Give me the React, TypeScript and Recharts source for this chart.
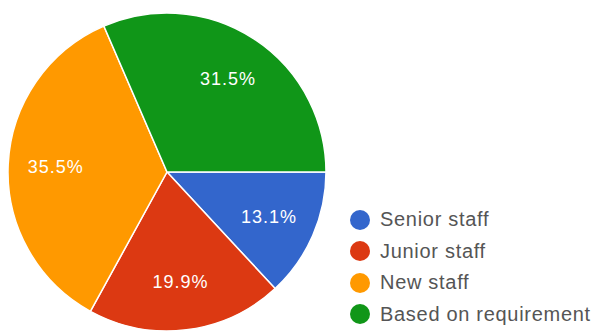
import { Cell, Legend, Pie, PieChart } from 'recharts';

const categories = ['Senior staff', 'Junior staff', 'New staff', 'Based on requirement'];
const shares = [13.1, 19.9, 35.5, 31.5];
const colors = ['#3366cc', '#dc3912', '#ff9900', '#109618'];

const data = categories.map((name, i) => ({ name, value: shares[i] }));

const RADIAN = Math.PI / 180;

const renderLabel = (props: any) => {
  const { cx, cy, midAngle, outerRadius, index } = props;
  const r = outerRadius * 0.7;
  const x = cx + r * Math.cos(-midAngle * RADIAN);
  const y = cy + r * Math.sin(-midAngle * RADIAN);
  return (
    <text
      x={x}
      y={y}
      fill="#fff"
      textAnchor="middle"
      dominantBaseline="central"
      fontSize={18}
      letterSpacing={1}
      fontFamily="Liberation Sans, Arial, sans-serif"
    >
      {shares[index].toFixed(1)}%
    </text>
  );
};

const renderLegend = () => (
  <div
    style={{
      fontFamily: 'Liberation Sans, Arial, sans-serif',
      fontSize: 20,
      letterSpacing: 0.7,
      color: '#555',
    }}
  >
    {categories.map((name, i) => (
      <div key={name} style={{ display: 'flex', alignItems: 'center', height: 31.5 }}>
        <span
          style={{
            width: 20,
            height: 20,
            borderRadius: '50%',
            background: colors[i],
            display: 'inline-block',
            marginRight: 10,
          }}
        />
        {name}
      </div>
    ))}
  </div>
);

export default function App() {
  return (
    <div style={{ position: 'absolute', left: 0, top: 0, background: '#fff' }}>
      <PieChart width={601} height={335} margin={{ top: 0, right: 0, bottom: 0, left: 0 }}>
        <Pie
          data={data}
          dataKey="value"
          nameKey="name"
          cx={167}
          cy={172}
          outerRadius={159}
          startAngle={0}
          endAngle={-360}
          stroke="#fff"
          strokeWidth={1.5}
          label={renderLabel}
          labelLine={false}
          isAnimationActive={false}
        >
          {data.map((item, index) => (
            <Cell key={item.name} fill={colors[index]} />
          ))}
        </Pie>
        <Legend
          content={renderLegend}
          layout="vertical"
          wrapperStyle={{ left: 350, top: 204, width: 251 }}
        />
      </PieChart>
    </div>
  );
}
